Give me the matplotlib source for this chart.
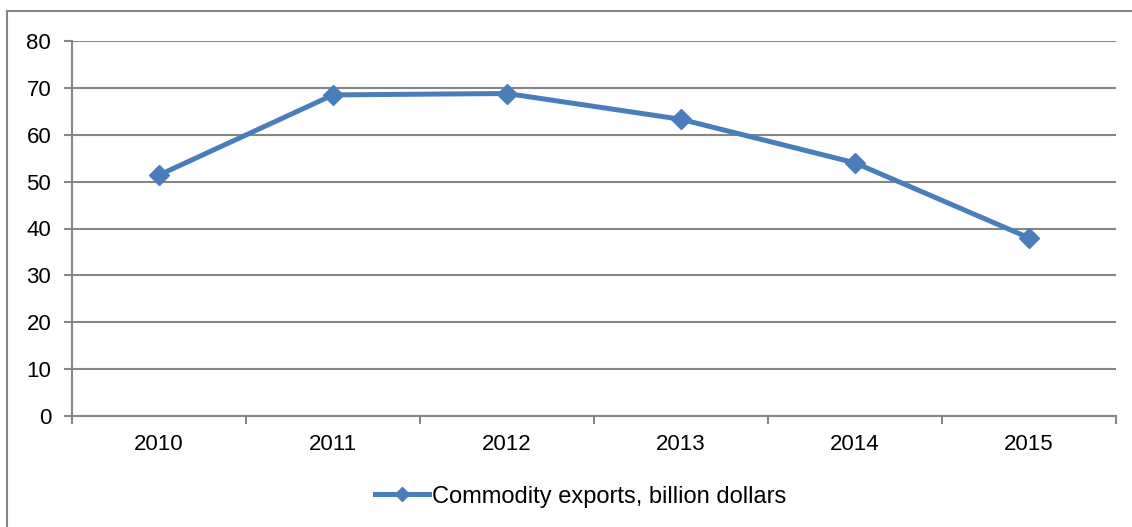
import matplotlib.pyplot as plt
import numpy as np
from matplotlib.patches import Rectangle

years = ["2010", "2011", "2012", "2013", "2014", "2015"]
exports = [51.4, 68.5, 68.8, 63.3, 54.0, 38.0]
yticks = [0, 10, 20, 30, 40, 50, 60, 70, 80]

plt.rcParams['font.family'] = ['Liberation Sans', 'DejaVu Sans']

fig = plt.figure(figsize=(11.32, 5.27), dpi=100)
ax = fig.add_axes([72 / 1132, 1 - 416 / 527, (1116 - 72) / 1132, (416 - 41) / 527])

# outer chart frame
fig.patches.append(Rectangle((7 / 1132, -0.01), 1.2, 1 - 11 / 527 + 0.01,
                             transform=fig.transFigure, fill=False,
                             edgecolor="#868686", linewidth=1.5))

x = np.arange(len(years))
ax.plot(x, exports, color="#4A7EBB", linewidth=3.6, marker="D", markersize=10.5,
        label="Commodity exports, billion dollars")

ax.set_xlim(-0.5, len(years) - 0.5)
ax.set_ylim(0, 80)
ax.set_yticks(yticks)
ax.set_xticks(x)
ax.set_xticklabels(years)
ax.set_xticks(np.arange(-0.5, len(years)), minor=True)
ax.tick_params(axis="x", which="major", length=0, pad=13, labelsize=16)
ax.tick_params(axis="x", which="minor", length=6, width=1.5, color="#868686")
ax.tick_params(axis="y", length=6, width=1.5, color="#868686", labelsize=16, pad=9)

ax.grid(axis="y", color="#868686", linewidth=1.5)
ax.set_axisbelow(True)
for side in ["top", "right"]:
    ax.spines[side].set_visible(False)
for side in ["left", "bottom"]:
    ax.spines[side].set_color("#868686")
    ax.spines[side].set_linewidth(1.5)

ax.legend(loc="center", bbox_to_anchor=(0.487, -0.215), frameon=False, fontsize=17,
          handlelength=2.3, handletextpad=0.1, markerscale=0.72)

fig.savefig("out.png", dpi=100)
